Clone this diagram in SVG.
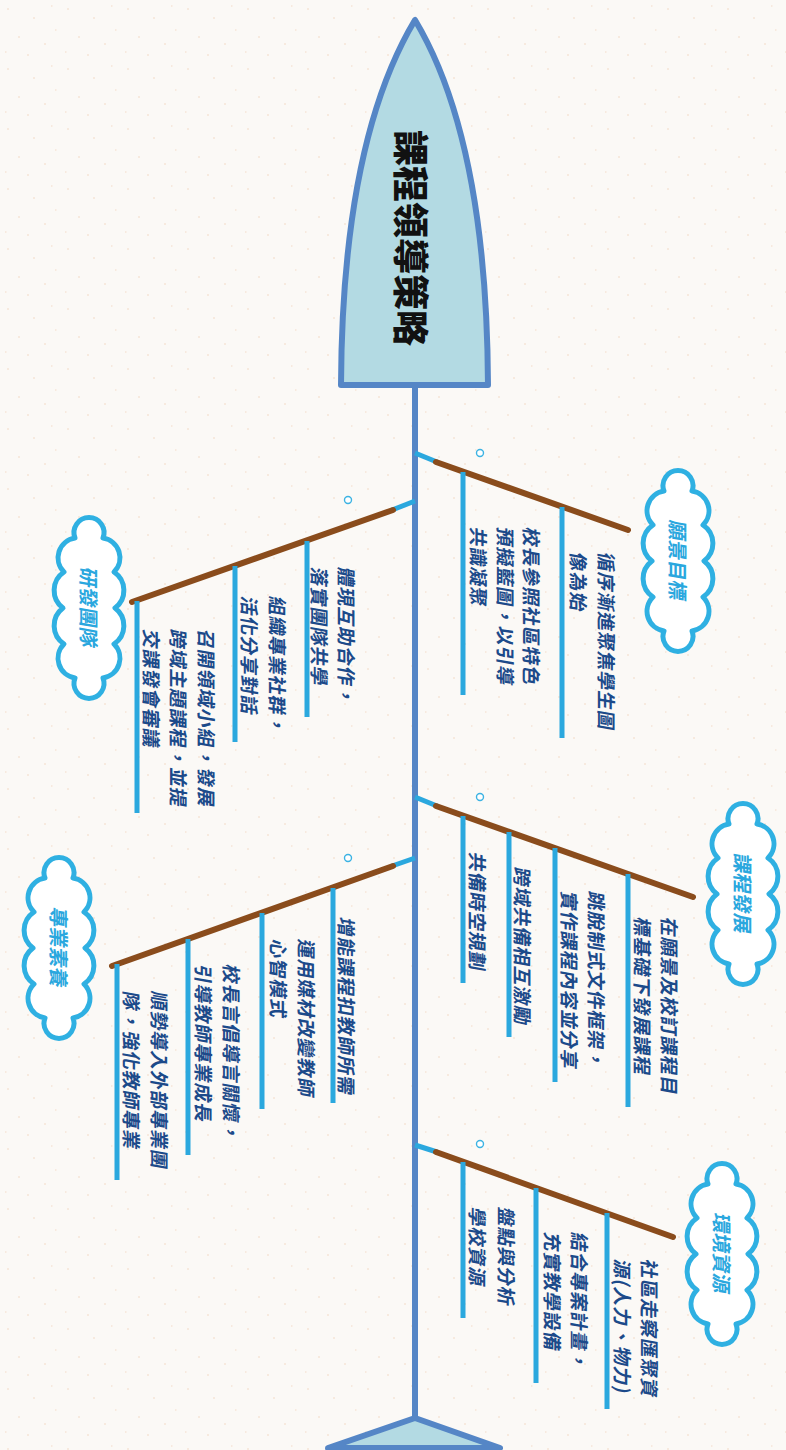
<svg xmlns="http://www.w3.org/2000/svg" width="786" height="1450" viewBox="0 0 786 1450">
  <defs>
    <style>
      .spine{stroke:#5586c6;stroke-width:6;fill:none;stroke-linecap:butt}
      .lb{stroke:#2ba8de;stroke-width:5;fill:none}
      .br{stroke:#8a4c1c;stroke-width:6;fill:none;stroke-linecap:round}
      .sub{stroke:#2ba8de;stroke-width:5;fill:none}
      .dot{fill:#ffffff;stroke:#3cb3e3;stroke-width:1.4}
      .cloud{fill:#ffffff;stroke:#2fb0e2;stroke-width:5;stroke-linejoin:round}
      .t{font-family:"Noto Sans CJK TC","Noto Sans CJK SC",sans-serif;font-weight:bold;font-size:19px;fill:#1c4a8a;dominant-baseline:central;letter-spacing:0.8px}
      .ct{font-family:"Noto Sans CJK TC","Noto Sans CJK SC",sans-serif;font-weight:bold;font-size:20px;fill:#2aa7de;dominant-baseline:central;text-anchor:middle}
      .ht{font-family:"Noto Sans CJK TC","Noto Sans CJK SC",sans-serif;font-weight:900;font-size:36px;fill:#111111;dominant-baseline:central;text-anchor:middle}
    </style>
    <path id="cloudShape" class="cloud" d="M-14,-70 A15,15 0 1,1 14,-70 A20,20 0 0,1 25,-36 A22,22 0 0,1 26,0 A22,22 0 0,1 25,36 A20,20 0 0,1 14,70 A15,15 0 1,1 -14,70 A20,20 0 0,1 -25,36 A22,22 0 0,1 -26,0 A22,22 0 0,1 -25,-36 A20,20 0 0,1 -14,-70 Z"/>
    <pattern id="speck" width="60" height="60" patternUnits="userSpaceOnUse">
      <rect width="60" height="60" fill="#fbf9f6"/>
      <path d="M7,9h2 M33,18h2 M51,6h1.5 M18,37h2 M44,44h2 M5,52h1.5 M27,55h2 M55,30h1.5" stroke="#f1cdb4" stroke-width="1" opacity="0.7"/>
    </pattern>
  </defs>

  <rect width="786" height="1450" fill="url(#speck)"/>

  <g id="connectors">
    <line class="spine" x1="415" y1="383" x2="415" y2="1418"/>
    <!-- branch 1 -->
    <line class="lb" x1="415" y1="453" x2="437" y2="462"/>
    <line class="br" x1="436" y1="462" x2="628" y2="530"/>
    <line class="sub" x1="463" y1="472" x2="463" y2="695"/>
    <line class="sub" x1="562" y1="507" x2="562" y2="738"/>
    <!-- branch 2 -->
    <line class="lb" x1="415" y1="501" x2="392" y2="510"/>
    <line class="br" x1="393" y1="510" x2="132" y2="602"/>
    <line class="sub" x1="307" y1="541" x2="307" y2="717"/>
    <line class="sub" x1="235" y1="566" x2="235" y2="742"/>
    <line class="sub" x1="137" y1="601" x2="137" y2="813"/>
    <!-- branch 3 -->
    <line class="lb" x1="415" y1="797" x2="437" y2="806"/>
    <line class="br" x1="436" y1="806" x2="693" y2="897"/>
    <line class="sub" x1="463" y1="816" x2="463" y2="983"/>
    <line class="sub" x1="509" y1="832" x2="509" y2="1037"/>
    <line class="sub" x1="555" y1="848" x2="555" y2="1082"/>
    <line class="sub" x1="628" y1="874" x2="628" y2="1107"/>
    <!-- branch 4 -->
    <line class="lb" x1="415" y1="858" x2="392" y2="866"/>
    <line class="br" x1="393" y1="866" x2="112" y2="966"/>
    <line class="sub" x1="333" y1="888" x2="333" y2="1103"/>
    <line class="sub" x1="262" y1="913" x2="262" y2="1109"/>
    <line class="sub" x1="188" y1="939" x2="188" y2="1155"/>
    <line class="sub" x1="117" y1="964" x2="117" y2="1180"/>
    <!-- branch 5 -->
    <line class="lb" x1="415" y1="1145" x2="437" y2="1152"/>
    <line class="br" x1="436" y1="1152" x2="673" y2="1237"/>
    <line class="sub" x1="463" y1="1162" x2="463" y2="1318"/>
    <line class="sub" x1="536" y1="1188" x2="536" y2="1383"/>
    <line class="sub" x1="607" y1="1213" x2="607" y2="1409"/>
    <!-- small rings -->
    <circle class="dot" cx="480" cy="453" r="3.5"/>
    <circle class="dot" cx="348" cy="500" r="3.5"/>
    <circle class="dot" cx="480" cy="797" r="3.5"/>
    <circle class="dot" cx="348" cy="858" r="3.5"/>
    <circle class="dot" cx="480" cy="1144" r="3.5"/>
  </g>

  <g id="head">
    <path d="M415,20 C385,70 342,170 341,385 L488,385 C487,170 445,70 415,20 Z" fill="#b3dae3" stroke="#5586c6" stroke-width="6" stroke-linejoin="round"/>
    <text class="ht" transform="translate(413,238) rotate(90)">課程領導策略</text>
  </g>

  <g id="tail">
    <path d="M415,1418 L500,1448 L328,1448 Z" fill="#b3dae3" stroke="#5586c6" stroke-width="6" stroke-linejoin="round"/>
  </g>

  <g id="cat-vision">
    <use href="#cloudShape" transform="translate(678,561)"/>
    <text class="ct" transform="translate(678,561) rotate(90) skewX(-10)">願景目標</text>
  </g>
  <g id="items-vision">
    <text class="t" transform="translate(607,553) rotate(90) skewX(-10)">循序漸進聚焦學生圖</text>
    <text class="t" transform="translate(579,553) rotate(90) skewX(-10)">像為始</text>
    <text class="t" transform="translate(532,528) rotate(90) skewX(-10)">校長參照社區特色</text>
    <text class="t" transform="translate(506,528) rotate(90) skewX(-10)">預擬藍圖，以引導</text>
    <text class="t" transform="translate(479,528) rotate(90) skewX(-10)">共識凝聚</text>
  </g>

  <g id="cat-team">
    <use href="#cloudShape" transform="translate(89,608)"/>
    <text class="ct" transform="translate(89,608) rotate(90) skewX(-10)">研發團隊</text>
  </g>
  <g id="items-team">
    <text class="t" transform="translate(347,568) rotate(90) skewX(-10)">體現互助合作，</text>
    <text class="t" transform="translate(320,568) rotate(90) skewX(-10)">落實團隊共學</text>
    <text class="t" transform="translate(278,597) rotate(90) skewX(-10)">組織專業社群，</text>
    <text class="t" transform="translate(250,597) rotate(90) skewX(-10)">活化分享對話</text>
    <text class="t" transform="translate(207,630) rotate(90) skewX(-10)">召開領域小組，發展</text>
    <text class="t" transform="translate(179,630) rotate(90) skewX(-10)">跨域主題課程，並提</text>
    <text class="t" transform="translate(152,630) rotate(90) skewX(-10)">交課發會審議</text>
  </g>

  <g id="cat-curriculum">
    <use href="#cloudShape" transform="translate(743,894)"/>
    <text class="ct" transform="translate(743,894) rotate(90) skewX(-10)">課程發展</text>
  </g>
  <g id="items-curriculum">
    <text class="t" transform="translate(670,918) rotate(90) skewX(-10)">在願景及校訂課程目</text>
    <text class="t" transform="translate(643,918) rotate(90) skewX(-10)">標基礎下發展課程</text>
    <text class="t" transform="translate(597,892) rotate(90) skewX(-10)">跳脫制式文件框架，</text>
    <text class="t" transform="translate(570,892) rotate(90) skewX(-10)">實作課程內容並分享</text>
    <text class="t" transform="translate(523,868) rotate(90) skewX(-10)">跨域共備相互激勵</text>
    <text class="t" transform="translate(478,853) rotate(90) skewX(-10)">共備時空規劃</text>
  </g>

  <g id="cat-profession">
    <use href="#cloudShape" transform="translate(59,948)"/>
    <text class="ct" transform="translate(59,948) rotate(90) skewX(-10)">專業素養</text>
  </g>
  <g id="items-profession">
    <text class="t" transform="translate(347,918) rotate(90) skewX(-10)">增能課程扣教師所需</text>
    <text class="t" transform="translate(307,940) rotate(90) skewX(-10)">運用媒材改變教師</text>
    <text class="t" transform="translate(279,940) rotate(90) skewX(-10)">心智模式</text>
    <text class="t" transform="translate(232,965) rotate(90) skewX(-10)">校長言倡導言關懷，</text>
    <text class="t" transform="translate(204,965) rotate(90) skewX(-10)">引導教師專業成長</text>
    <text class="t" transform="translate(160,992) rotate(90) skewX(-10)">順勢導入外部專業團</text>
    <text class="t" transform="translate(132,992) rotate(90) skewX(-10)">隊，強化教師專業</text>
  </g>

  <g id="cat-environment">
    <use href="#cloudShape" transform="translate(722,1254)"/>
    <text class="ct" transform="translate(722,1254) rotate(90) skewX(-10)">環境資源</text>
  </g>
  <g id="items-environment">
    <text class="t" transform="translate(650,1260) rotate(90) skewX(-10)">社區走察匯聚資</text>
    <text class="t" transform="translate(623,1260) rotate(90) skewX(-10)">源(人力、物力)</text>
    <text class="t" transform="translate(580,1233) rotate(90) skewX(-10)">結合專案計畫，</text>
    <text class="t" transform="translate(553,1233) rotate(90) skewX(-10)">充實教學設備</text>
    <text class="t" transform="translate(507,1208) rotate(90) skewX(-10)">盤點與分析</text>
    <text class="t" transform="translate(478,1208) rotate(90) skewX(-10)">學校資源</text>
  </g>
</svg>
